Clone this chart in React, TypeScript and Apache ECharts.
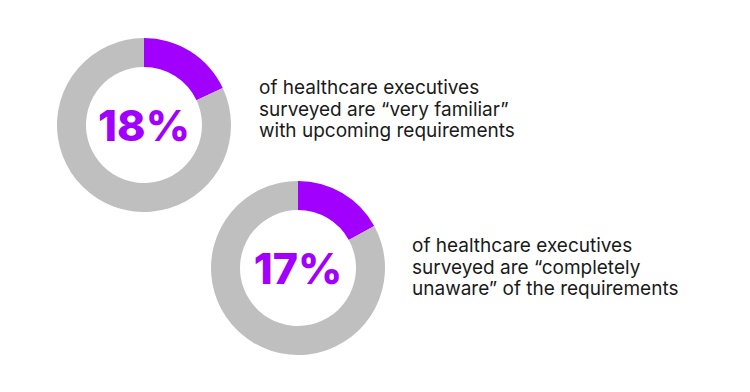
import React, { useEffect, useRef } from "react";
import * as echarts from "echarts";

const stats = [18, 17];
const labels = ["18%", "17%"];
const descriptions = [
  ["of healthcare executives", "surveyed are \u201cvery familiar\u201d", "with upcoming requirements"],
  ["of healthcare executives", "surveyed are \u201ccompletely", "unaware\u201d of the requirements"],
];

const PURPLE = "#A100FF";
const GRAY = "#BFBFBF";

export default function App() {
  const ref = useRef<HTMLDivElement>(null);
  useEffect(() => {
    document.body.style.margin = "0";
    const chart = echarts.init(ref.current!, null, { renderer: "svg" });
    const centers = [
      [144, 125],
      [298, 268],
    ];
    const textPos = [
      [259, 88],
      [412, 246],
    ];
    chart.setOption({
      animation: false,
      backgroundColor: "#ffffff",
      series: stats.map((v, i) => ({
        type: "pie",
        center: centers[i],
        radius: [58, 87],
        startAngle: 90,
        clockwise: true,
        silent: true,
        label: { show: false },
        labelLine: { show: false },
        data: [
          {
            value: v,
            name: labels[i],
            itemStyle: { color: PURPLE },
            label: {
              show: true,
              position: "center",
              formatter: labels[i],
              fontFamily: "Inter",
              fontWeight: 800,
              fontSize: 43,
              color: PURPLE,
            },
          },
          { value: 100 - v, name: "rest", itemStyle: { color: GRAY } },
        ],
      })),
      graphic: descriptions.map((lines, i) => ({
        type: "text",
        left: textPos[i][0],
        top: textPos[i][1] - 11,
        style: {
          text: lines.join("\n"),
          fontFamily: "Inter",
          fontSize: 19,
          lineHeight: 21.5,
          fill: "#1a1a1a",
        },
      })),
    });
    return () => chart.dispose();
  }, []);
  return <div ref={ref} style={{ width: 750, height: 392 }} />;
}
